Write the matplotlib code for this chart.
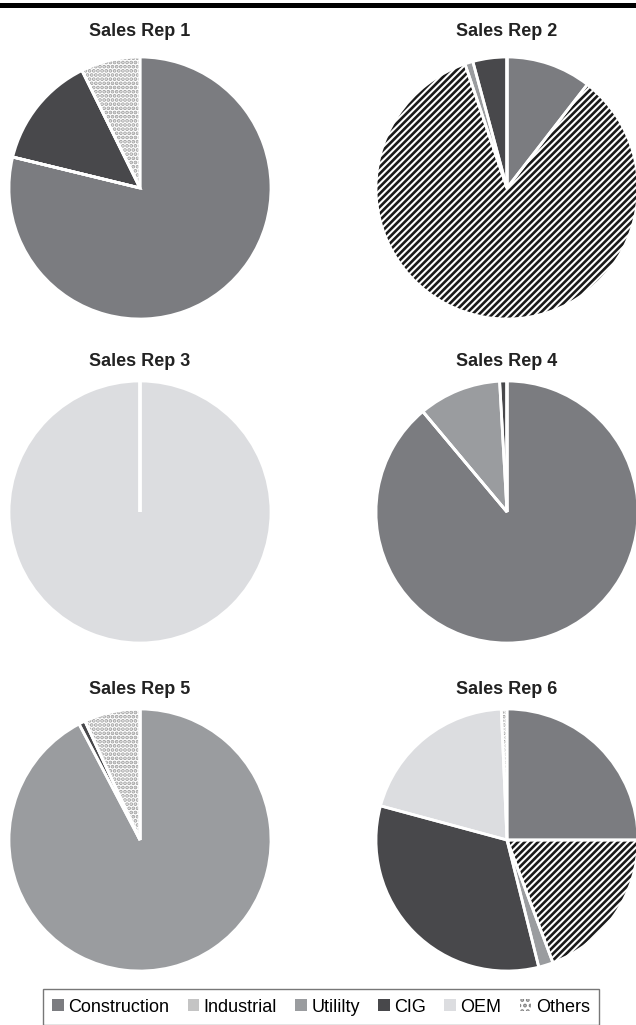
import matplotlib
matplotlib.use("Agg")
import matplotlib.pyplot as plt
from matplotlib.patches import Patch
from matplotlib.lines import Line2D

plt.rcParams['font.family'] = ['Liberation Sans', 'DejaVu Sans']
plt.rcParams['hatch.linewidth'] = 1.9

categories = ["Construction", "Industrial", "Utililty", "CIG", "OEM", "Others"]
titles = ["Sales Rep 1", "Sales Rep 2", "Sales Rep 3", "Sales Rep 4", "Sales Rep 5", "Sales Rep 6"]

# share of each category (%)
rep1 = [78.8, 0, 0, 13.9, 0, 7.3]
rep2 = [10.5, 84.3, 1.0, 4.2, 0, 0]
rep3 = [0, 0, 0, 0, 100, 0]
rep4 = [88.9, 0, 10.2, 0.9, 0, 0]
rep5 = [0, 0, 92.3, 0.8, 0, 6.9]
rep6 = [25.0, 19.3, 1.8, 33.1, 20.1, 0.7]
reps = [rep1, rep2, rep3, rep4, rep5, rep6]

colors = ["#7b7c80", "white", "#9a9c9f", "#48484b", "#dcdde0", "white"]
hatches = [None, "/////", None, None, None, "...."]
hatch_colors = [None, "#1a1a1a", None, None, None, "#a0a0a0"]
legend_colors = ["#7b7c80", "#c4c4c4", "#9a9c9f", "#48484b", "#dcdde0", "white"]

W, H = 636, 1025
fig = plt.figure(figsize=(W / 100, H / 100), dpi=100)

centers = [(140, 188), (507, 188), (140, 512), (507, 512), (140, 840), (507, 840)]
title_y = [32, 32, 362, 362, 690, 690]
R = 131

for i, vals in enumerate(reps):
    cx, cy = centers[i]
    ax = fig.add_axes([(cx - R) / W, (H - cy - R) / H, 2 * R / W, 2 * R / H])
    wedges, _ = ax.pie(vals, colors=colors, startangle=90, counterclock=False,
                       wedgeprops=dict(linewidth=0))
    for w, h, hc in zip(wedges, hatches, hatch_colors):
        if h:
            w.set_hatch(h)
            w.set_edgecolor(hc)
    # white separators on top
    ax.pie(vals, colors=["none"] * len(vals), startangle=90, counterclock=False,
           wedgeprops=dict(linewidth=2, edgecolor="white"))
    ax.set_xlim(-1, 1)
    ax.set_ylim(-1, 1)
    fig.text(cx / W, 1 - title_y[i] / H, titles[i], ha="center", va="center",
             fontsize=13, fontweight="bold", color="#222222")

# black rule at top
fig.add_artist(Line2D([0, 1], [1 - 4.5 / H, 1 - 4.5 / H], transform=fig.transFigure,
                      color="black", linewidth=3.6))

handles = []
for c, col in zip(categories, legend_colors):
    if c == "Others":
        handles.append(Patch(facecolor="white", edgecolor="#808080", hatch="...", linewidth=0))
    else:
        handles.append(Patch(facecolor=col, edgecolor="none"))
leg = fig.legend(handles, categories, loc="center", bbox_to_anchor=(321 / W, 1 - 1007 / H),
                 ncol=6, fontsize=13, frameon=True, fancybox=False, handlelength=0.65,
                 handleheight=0.65, handletextpad=0.25, columnspacing=1.0,
                 borderpad=0.5, borderaxespad=0, edgecolor="#555555")
leg.get_frame().set_linewidth(1.0)

fig.savefig("out.png", dpi=100)
